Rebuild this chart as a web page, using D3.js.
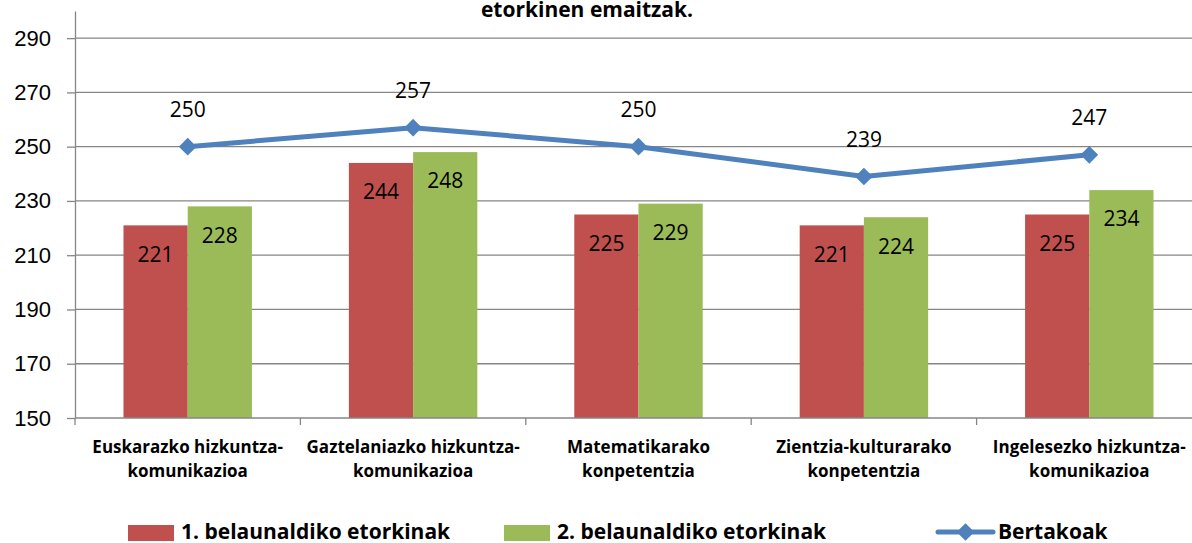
<!DOCTYPE html>
<html>
<head>
<meta charset="utf-8">
<script src="https://cdnjs.cloudflare.com/ajax/libs/d3/7.8.5/d3.min.js"></script>
<style>
  body { margin: 0; background: #fff; }
  svg { font-family: "Open Sans", "Noto Sans", sans-serif; display: block; }
  .grid line { stroke: #868686; stroke-width: 1.3px; }
  .axis path, .axis line { stroke: #868686; stroke-width: 1.3px; }
</style>
</head>
<body>
<svg id="chart" width="1192" height="543"></svg>
<script>
// categories (two-line labels)
var categories = ["Euskarazko hizkuntza-komunikazioa", "Gaztelaniazko hizkuntza-komunikazioa",
  "Matematikarako konpetentzia", "Zientzia-kulturarako konpetentzia", "Ingelesezko hizkuntza-komunikazioa"];
var labelLines = [["Euskarazko hizkuntza-", "komunikazioa"], ["Gaztelaniazko hizkuntza-", "komunikazioa"],
  ["Matematikarako", "konpetentzia"], ["Zientzia-kulturarako", "konpetentzia"], ["Ingelesezko hizkuntza-", "komunikazioa"]];
var seriesNames = ["1. belaunaldiko etorkinak", "2. belaunaldiko etorkinak", "Bertakoak"];
var gen1 = [221, 244, 225, 221, 225];
var gen2 = [228, 248, 229, 224, 234];
var locals = [250, 257, 250, 239, 247];
var yTicks = [150, 170, 190, 210, 230, 250, 270, 290];

var colors = ["#C0504D", "#9BBB59", "#4F81BD"];

var svg = d3.select("svg");
var plotLeft = 75, plotRight = 1202, plotTop = 11, plotBottom = 418;

var y = d3.scaleLinear().domain([150, 300]).range([plotBottom, plotTop]);
var x0 = d3.scaleBand().domain(categories).range([plotLeft, plotRight]);
var x1 = d3.scaleBand().domain([0, 1]).range([0, x0.bandwidth()]).paddingOuter(0.755);

// gridlines
svg.append("g").attr("class", "grid")
  .selectAll("line").data(yTicks.slice(1)).enter().append("line")
  .attr("x1", plotLeft).attr("x2", plotRight)
  .attr("y1", function(d) { return y(d); }).attr("y2", function(d) { return y(d); });

// y axis
var yAxis = svg.append("g").attr("class", "axis")
  .attr("transform", "translate(" + plotLeft + ",0)")
  .call(d3.axisLeft(y).tickValues(yTicks).tickSize(8).tickPadding(16).tickSizeOuter(0));
yAxis.selectAll("text").style("font-size", "22px").attr("fill", "#000");

// bars
var bars = [gen1, gen2];
bars.forEach(function(vals, s) {
  var g = svg.append("g");
  g.selectAll("rect").data(vals).enter().append("rect")
    .attr("x", function(d, i) { return x0(categories[i]) + x1(s); })
    .attr("y", function(d) { return y(d); })
    .attr("width", x1.bandwidth())
    .attr("height", function(d) { return plotBottom - y(d); })
    .attr("fill", colors[s]);
  g.selectAll("text").data(vals).enter().append("text")
    .attr("x", function(d, i) { return x0(categories[i]) + x1(s) + x1.bandwidth() / 2; })
    .attr("y", function(d) { return y(d) + 29; })
    .attr("dy", "0.35em")
    .attr("text-anchor", "middle")
    .style("font-size", "21px")
    .text(function(d) { return d; });
});

// x axis
var xAxis = svg.append("g").attr("class", "axis")
  .attr("transform", "translate(0," + plotBottom + ")");
xAxis.append("line").attr("x1", plotLeft).attr("x2", plotRight);
xAxis.selectAll(".tk").data(d3.range(categories.length + 1)).enter().append("line")
  .attr("class", "tk")
  .attr("x1", function(i) { return plotLeft + i * x0.step(); })
  .attr("x2", function(i) { return plotLeft + i * x0.step(); })
  .attr("y1", 0).attr("y2", 7);
xAxis.selectAll(".lbl").data(categories).enter().append("text")
  .attr("class", "lbl")
  .attr("text-anchor", "middle")
  .style("font-size", "17px").style("font-weight", "bold")
  .attr("transform", function(d) { return "translate(" + (x0(d) + x0.bandwidth() / 2) + ",0)"; })
  .each(function(d, i) {
    var t = d3.select(this);
    labelLines[i].forEach(function(l, k) {
      t.append("tspan").attr("x", 0).attr("y", 35 + k * 24).text(l);
    });
  });

// line series
var cx = function(d, i) { return x0(categories[i]) + x0.bandwidth() / 2; };
var line = d3.line().x(cx).y(function(d) { return y(d); });
svg.append("path").datum(locals)
  .attr("d", line).attr("fill", "none")
  .attr("stroke", colors[2]).attr("stroke-width", 5).attr("stroke-linejoin", "round");
svg.selectAll(".mk").data(locals).enter().append("path")
  .attr("class", "mk")
  .attr("d", d3.symbol(d3.symbolDiamond2, 200))
  .attr("transform", function(d, i) { return "translate(" + cx(d, i) + "," + y(d) + ")"; })
  .attr("fill", colors[2]);
svg.selectAll(".ll").data(locals).enter().append("text")
  .attr("class", "ll")
  .attr("x", cx).attr("y", function(d) { return y(d) - 37; })
  .attr("dy", "0.35em").attr("text-anchor", "middle")
  .style("font-size", "21px")
  .text(function(d) { return d; });

// title (partly cut)
svg.append("rect").attr("x", 460).attr("y", 0).attr("width", 255).attr("height", 24).attr("fill", "#fff");
svg.append("text").attr("x", 587).attr("y", 17).attr("text-anchor", "middle")
  .style("font-size", "21px").style("font-weight", "bold")
  .text("etorkinen emaitzak.");

// legend
var legendX = [128, 504, 938];
var lg = svg.selectAll(".legend").data(seriesNames).enter().append("g")
  .attr("class", "legend")
  .attr("transform", function(d, i) { return "translate(" + legendX[i] + ",0)"; });
lg.each(function(d, i) {
  var g = d3.select(this);
  if (i < 2) {
    g.append("rect").attr("x", 0).attr("y", 525).attr("width", 46).attr("height", 16).attr("fill", colors[i]);
  } else {
    g.append("line").attr("x1", 0).attr("x2", 55).attr("y1", 532).attr("y2", 532)
      .attr("stroke", colors[2]).attr("stroke-width", 5).attr("stroke-linecap", "round");
    g.append("path").attr("d", d3.symbol(d3.symbolDiamond2, 200))
      .attr("transform", "translate(27.5,532)").attr("fill", colors[2]);
  }
  g.append("text").attr("x", i < 2 ? 53 : 60).attr("y", 539)
    .style("font-size", "21px").style("font-weight", "bold")
    .text(d);
});
</script>
</body>
</html>
